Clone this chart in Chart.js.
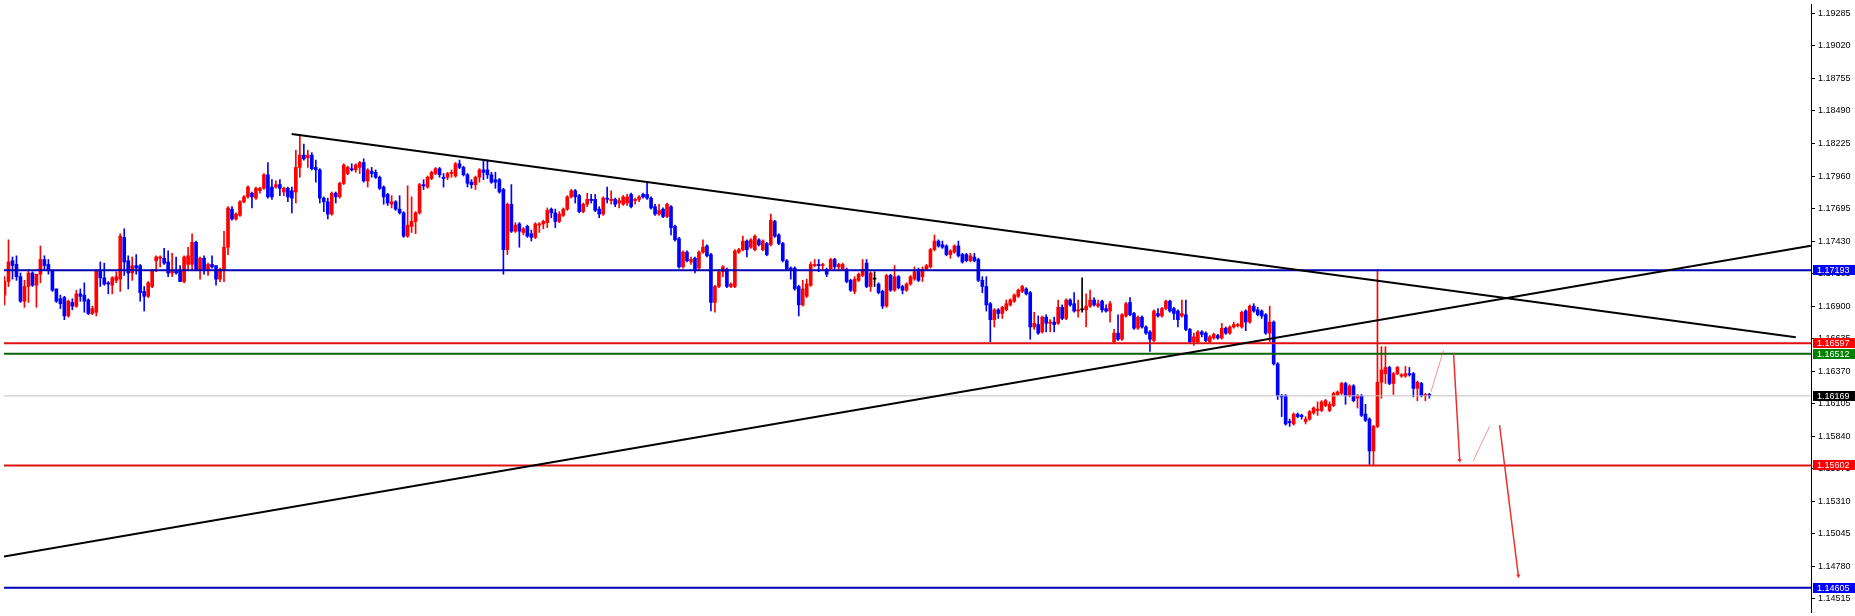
<!DOCTYPE html>
<html>
<head>
<meta charset="utf-8">
<script src="https://cdn.jsdelivr.net/npm/chart.js@4.4.1/dist/chart.umd.min.js"></script>
<style>
  html, body { margin: 0; padding: 0; background: #fff; overflow: hidden; }
</style>
</head>
<body>
<canvas id="chart" width="1855" height="616"></canvas>
<script>
// EURUSD candles (index = bar number from the left)
const opens = [
1.1699,1.1710,1.1727,1.1724,1.1714,1.1694,1.1706,1.1717,1.1707,1.1716,
1.1728,1.1724,1.1719,1.1704,1.1696,1.1697,1.1682,1.1693,1.1690,1.1700,
1.1699,1.1695,1.1684,1.1685,1.1719,1.1713,1.1709,1.1707,1.1711,1.1712,
1.1746,1.1727,1.1717,1.1723,1.1723,1.1702,1.1698,1.1706,1.1727,1.1729,
1.1729,1.1726,1.1717,1.1719,1.1719,1.1710,1.1724,1.1724,1.1742,1.1720,
1.1729,1.1720,1.1724,1.1723,1.1712,1.1719,1.1738,1.1769,1.1761,1.1764,
1.1775,1.1779,1.1782,1.1778,1.1784,1.1786,1.1797,1.1787,1.1787,1.1789,
1.1783,1.1786,1.1784,1.1783,1.1803,1.1813,1.1811,1.1813,1.1803,1.1801,
1.1778,1.1775,1.1765,1.1782,1.1779,1.1790,1.1798,1.1802,1.1801,1.1803,
1.1807,1.1792,1.1800,1.1799,1.1795,1.1787,1.1781,1.1773,1.1775,1.1769,
1.1766,1.1747,1.1755,1.1759,1.1766,1.1789,1.1787,1.1794,1.1798,1.1802,
1.1795,1.1795,1.1798,1.1796,1.1806,1.1803,1.1797,1.1791,1.1789,1.1795,
1.1801,1.1801,1.1797,1.1793,1.1793,1.1785,1.1736,1.1773,1.1751,1.1757,
1.1750,1.1755,1.1749,1.1746,1.1756,1.1757,1.1758,1.1769,1.1766,1.1759,
1.1764,1.1769,1.1779,1.1784,1.1780,1.1767,1.1773,1.1777,1.1777,1.1769,
1.1765,1.1778,1.1776,1.1777,1.1774,1.1773,1.1774,1.1781,1.1776,1.1777,
1.1781,1.1781,1.1778,1.1771,1.1765,1.1769,1.1763,1.1771,1.1755,1.1745,
1.1722,1.1734,1.1726,1.1729,1.1721,1.1734,1.1739,1.1732,1.1693,1.1706,
1.1718,1.1720,1.1706,1.1706,1.1734,1.1736,1.1743,1.1738,1.1736,1.1744,
1.1736,1.1741,1.1740,1.1759,1.1748,1.1741,1.1727,1.1721,1.1721,1.1706,
1.1691,1.1698,1.1707,1.1723,1.1724,1.1723,1.1720,1.1720,1.1728,1.1722,
1.1720,1.1720,1.1711,1.1702,1.1711,1.1715,1.1725,1.1706,1.1712,1.1708,
1.1702,1.1690,1.1715,1.1703,1.1714,1.1706,1.1703,1.1708,1.1712,1.1720,
1.1714,1.1720,1.1722,1.1736,1.1743,1.1740,1.1739,1.1732,1.1734,1.1739,
1.1732,1.1732,1.1727,1.1730,1.1728,1.1711,1.1706,1.1692,1.1679,1.1687,
1.1684,1.1687,1.1691,1.1694,1.1698,1.1702,1.1704,1.1701,1.1673,1.1675,
1.1669,1.1681,1.1676,1.1677,1.1676,1.1689,1.1680,1.1695,1.1692,1.1686,
1.1687,1.1687,1.1690,1.1695,1.1690,1.1694,1.1688,1.1686,1.1661,1.1668,
1.1663,1.1682,1.1693,1.1684,1.1672,1.1681,1.1673,1.1669,1.1662,1.1684,
1.1682,1.1688,1.1694,1.1688,1.1686,1.1682,1.1683,1.1671,1.1661,1.1661,
1.1669,1.1668,1.1661,1.1664,1.1666,1.1664,1.1672,1.1668,1.1673,1.1674,
1.1673,1.1686,1.1677,1.1690,1.1687,1.1686,1.1683,1.1668,1.1677,1.1643,
1.1617,1.1617,1.1596,1.1594,1.1602,1.1601,1.1596,1.1598,1.1603,1.1605,
1.1605,1.1609,1.1605,1.1609,1.1618,1.1619,1.1627,1.1617,1.1625,1.1615,
1.1617,1.1602,1.1598,1.1572,1.1592,1.1628,1.1635,1.1640,1.1627,1.1635,
1.1633,1.1633,1.1635,1.1635,1.1623,1.1627,1.1617,1.1618
];
const highs = [
1.1714,1.1744,1.1730,1.1731,1.1717,1.1711,1.1720,1.1718,1.1716,1.1739,
1.1731,1.1728,1.1719,1.1704,1.1699,1.1698,1.1695,1.1696,1.1703,1.1704,
1.1709,1.1696,1.1690,1.1720,1.1726,1.1725,1.1710,1.1714,1.1718,1.1749,
1.1753,1.1731,1.1730,1.1732,1.1724,1.1706,1.1710,1.1720,1.1731,1.1731,
1.1737,1.1735,1.1733,1.1730,1.1723,1.1731,1.1738,1.1749,1.1743,1.1730,
1.1731,1.1725,1.1731,1.1723,1.1721,1.1751,1.1771,1.1771,1.1766,1.1776,
1.1780,1.1788,1.1783,1.1787,1.1787,1.1798,1.1807,1.1793,1.1792,1.1793,
1.1787,1.1787,1.1787,1.1817,1.1829,1.1822,1.1817,1.1815,1.1809,1.1802,
1.1779,1.1778,1.1783,1.1783,1.1791,1.1806,1.1804,1.1806,1.1806,1.1808,
1.1810,1.1802,1.1803,1.1801,1.1796,1.1788,1.1782,1.1780,1.1776,1.1780,
1.1767,1.1788,1.1779,1.1767,1.1790,1.1793,1.1796,1.1800,1.1803,1.1803,
1.1798,1.1799,1.1801,1.1807,1.1809,1.1804,1.1798,1.1793,1.1796,1.1802,
1.1809,1.1809,1.1799,1.1799,1.1794,1.1786,1.1774,1.1789,1.1758,1.1758,
1.1754,1.1756,1.1752,1.1758,1.1758,1.1760,1.1770,1.1770,1.1769,1.1767,
1.1770,1.1780,1.1785,1.1785,1.1781,1.1774,1.1782,1.1781,1.1781,1.1771,
1.1779,1.1787,1.1784,1.1778,1.1778,1.1780,1.1781,1.1782,1.1778,1.1780,
1.1782,1.1791,1.1779,1.1773,1.1773,1.1770,1.1774,1.1772,1.1756,1.1746,
1.1735,1.1735,1.1730,1.1730,1.1735,1.1744,1.1740,1.1733,1.1707,1.1720,
1.1723,1.1721,1.1709,1.1736,1.1737,1.1747,1.1744,1.1745,1.1748,1.1745,
1.1744,1.1742,1.1765,1.1760,1.1749,1.1742,1.1728,1.1722,1.1722,1.1707,
1.1711,1.1712,1.1726,1.1728,1.1728,1.1725,1.1721,1.1729,1.1729,1.1725,
1.1725,1.1721,1.1712,1.1714,1.1717,1.1728,1.1728,1.1718,1.1718,1.1709,
1.1703,1.1716,1.1716,1.1723,1.1715,1.1707,1.1709,1.1715,1.1722,1.1721,
1.1722,1.1724,1.1737,1.1748,1.1744,1.1743,1.1740,1.1736,1.1740,1.1743,
1.1733,1.1733,1.1733,1.1733,1.1729,1.1714,1.1714,1.1693,1.1688,1.1688,
1.1690,1.1695,1.1696,1.1700,1.1704,1.1707,1.1705,1.1702,1.1685,1.1682,
1.1682,1.1683,1.1679,1.1681,1.1695,1.1691,1.1696,1.1696,1.1701,1.1695,
1.1713,1.1700,1.1703,1.1697,1.1695,1.1695,1.1691,1.1694,1.1671,1.1683,
1.1684,1.1693,1.1697,1.1685,1.1682,1.1682,1.1674,1.1670,1.1687,1.1688,
1.1689,1.1695,1.1695,1.1689,1.1687,1.1695,1.1695,1.1672,1.1668,1.1670,
1.1670,1.1669,1.1666,1.1668,1.1667,1.1676,1.1673,1.1674,1.1677,1.1676,
1.1686,1.1687,1.1691,1.1692,1.1689,1.1687,1.1684,1.1690,1.1678,1.1644,
1.1618,1.1618,1.1598,1.1603,1.1603,1.1602,1.1600,1.1605,1.1608,1.1612,
1.1613,1.1614,1.1612,1.1620,1.1621,1.1628,1.1628,1.1626,1.1626,1.1618,
1.1618,1.1610,1.1599,1.1593,1.1720,1.1657,1.1657,1.1641,1.1636,1.1641,
1.1635,1.1641,1.1640,1.1636,1.1629,1.1628,1.1619,1.1619
];
const lows = [
1.1691,1.1706,1.1712,1.1711,1.1693,1.1689,1.1693,1.1706,1.1689,1.1709,
1.1719,1.1716,1.1702,1.1693,1.1688,1.1679,1.1681,1.1687,1.1689,1.1694,
1.1685,1.1683,1.1683,1.1682,1.1706,1.1707,1.1700,1.1700,1.1709,1.1702,
1.1715,1.1704,1.1711,1.1716,1.1694,1.1686,1.1697,1.1705,1.1718,1.1722,
1.1724,1.1714,1.1714,1.1716,1.1710,1.1709,1.1719,1.1719,1.1719,1.1712,
1.1716,1.1715,1.1721,1.1707,1.1710,1.1710,1.1732,1.1760,1.1760,1.1763,
1.1774,1.1778,1.1770,1.1777,1.1782,1.1785,1.1778,1.1777,1.1786,1.1780,
1.1780,1.1775,1.1766,1.1774,1.1795,1.1809,1.1803,1.1801,1.1791,1.1774,
1.1767,1.1761,1.1764,1.1774,1.1778,1.1789,1.1797,1.1800,1.1799,1.1798,
1.1791,1.1787,1.1795,1.1794,1.1785,1.1773,1.1772,1.1770,1.1768,1.1765,
1.1746,1.1746,1.1750,1.1749,1.1765,1.1785,1.1786,1.1793,1.1797,1.1795,
1.1787,1.1793,1.1795,1.1795,1.1802,1.1796,1.1787,1.1786,1.1785,1.1791,
1.1793,1.1794,1.1790,1.1786,1.1782,1.1716,1.1732,1.1750,1.1750,1.1738,
1.1748,1.1746,1.1743,1.1745,1.1750,1.1753,1.1754,1.1762,1.1754,1.1758,
1.1763,1.1768,1.1778,1.1774,1.1766,1.1766,1.1771,1.1774,1.1767,1.1762,
1.1764,1.1774,1.1773,1.1771,1.1770,1.1772,1.1772,1.1770,1.1773,1.1775,
1.1778,1.1777,1.1769,1.1764,1.1764,1.1762,1.1762,1.1748,1.1743,1.1721,
1.1721,1.1726,1.1724,1.1717,1.1720,1.1733,1.1730,1.1686,1.1685,1.1705,
1.1714,1.1705,1.1705,1.1705,1.1733,1.1735,1.1730,1.1737,1.1735,1.1739,
1.1735,1.1731,1.1739,1.1746,1.1740,1.1726,1.1719,1.1712,1.1703,1.1682,
1.1690,1.1697,1.1706,1.1722,1.1718,1.1720,1.1714,1.1719,1.1720,1.1720,
1.1719,1.1709,1.1702,1.1700,1.1710,1.1714,1.1705,1.1702,1.1706,1.1700,
1.1688,1.1689,1.1702,1.1702,1.1704,1.1700,1.1702,1.1707,1.1711,1.1710,
1.1710,1.1719,1.1721,1.1735,1.1738,1.1737,1.1731,1.1729,1.1733,1.1730,
1.1725,1.1726,1.1726,1.1726,1.1710,1.1701,1.1686,1.1661,1.1673,1.1680,
1.1680,1.1686,1.1690,1.1693,1.1697,1.1701,1.1699,1.1663,1.1671,1.1667,
1.1668,1.1669,1.1669,1.1669,1.1675,1.1679,1.1679,1.1690,1.1685,1.1681,
1.1685,1.1673,1.1689,1.1690,1.1689,1.1685,1.1685,1.1677,1.1660,1.1662,
1.1662,1.1681,1.1682,1.1671,1.1671,1.1672,1.1667,1.1653,1.1661,1.1681,
1.1681,1.1687,1.1685,1.1679,1.1673,1.1681,1.1670,1.1660,1.1658,1.1660,
1.1665,1.1661,1.1660,1.1663,1.1663,1.1663,1.1667,1.1667,1.1672,1.1673,
1.1672,1.1670,1.1676,1.1685,1.1682,1.1680,1.1667,1.1661,1.1642,1.1614,
1.1600,1.1593,1.1592,1.1593,1.1599,1.1598,1.1594,1.1597,1.1602,1.1601,
1.1604,1.1608,1.1604,1.1608,1.1617,1.1618,1.1610,1.1616,1.1612,1.1607,
1.1600,1.1596,1.1561,1.1560,1.1591,1.1615,1.1627,1.1626,1.1618,1.1634,
1.1632,1.1632,1.1633,1.1616,1.1613,1.1616,1.1613,1.1615
];
const closes = [
1.1710,1.1726,1.1723,1.1714,1.1694,1.1706,1.1717,1.1707,1.1716,1.1728,
1.1723,1.1719,1.1703,1.1694,1.1692,1.1682,1.1694,1.1690,1.1700,1.1698,
1.1694,1.1684,1.1688,1.1719,1.1713,1.1708,1.1708,1.1713,1.1714,1.1747,
1.1726,1.1717,1.1723,1.1721,1.1701,1.1698,1.1709,1.1719,1.1730,1.1730,
1.1725,1.1717,1.1719,1.1717,1.1710,1.1730,1.1731,1.1742,1.1720,1.1729,
1.1720,1.1724,1.1722,1.1712,1.1720,1.1738,1.1770,1.1761,1.1765,1.1775,
1.1779,1.1787,1.1779,1.1786,1.1786,1.1797,1.1779,1.1779,1.1789,1.1786,
1.1786,1.1779,1.1778,1.1803,1.1813,1.1810,1.1813,1.1802,1.1801,1.1778,
1.1775,1.1765,1.1782,1.1779,1.1790,1.1805,1.1803,1.1801,1.1805,1.1807,
1.1792,1.1801,1.1798,1.1795,1.1786,1.1779,1.1774,1.1775,1.1769,1.1766,
1.1747,1.1756,1.1759,1.1766,1.1789,1.1788,1.1795,1.1799,1.1802,1.1797,
1.1794,1.1798,1.1799,1.1806,1.1803,1.1797,1.1790,1.1789,1.1795,1.1801,
1.1799,1.1797,1.1791,1.1791,1.1783,1.1736,1.1773,1.1751,1.1756,1.1751,
1.1753,1.1747,1.1746,1.1757,1.1757,1.1759,1.1768,1.1766,1.1759,1.1765,
1.1769,1.1779,1.1784,1.1779,1.1767,1.1773,1.1777,1.1776,1.1768,1.1765,
1.1778,1.1777,1.1777,1.1773,1.1776,1.1779,1.1779,1.1771,1.1777,1.1779,
1.1779,1.1778,1.1770,1.1765,1.1768,1.1763,1.1773,1.1754,1.1744,1.1722,
1.1734,1.1727,1.1728,1.1720,1.1734,1.1738,1.1731,1.1693,1.1706,1.1718,
1.1722,1.1706,1.1708,1.1735,1.1736,1.1743,1.1736,1.1744,1.1747,1.1740,
1.1743,1.1732,1.1760,1.1747,1.1741,1.1727,1.1720,1.1720,1.1704,1.1691,
1.1704,1.1708,1.1724,1.1724,1.1723,1.1724,1.1716,1.1728,1.1722,1.1724,
1.1724,1.1710,1.1703,1.1712,1.1716,1.1720,1.1706,1.1717,1.1712,1.1701,
1.1690,1.1715,1.1703,1.1714,1.1705,1.1703,1.1708,1.1714,1.1718,1.1711,
1.1720,1.1723,1.1736,1.1743,1.1739,1.1738,1.1732,1.1735,1.1739,1.1731,
1.1726,1.1727,1.1731,1.1727,1.1711,1.1706,1.1691,1.1679,1.1687,1.1684,
1.1689,1.1692,1.1695,1.1699,1.1703,1.1706,1.1700,1.1673,1.1676,1.1668,
1.1681,1.1676,1.1677,1.1675,1.1689,1.1680,1.1695,1.1691,1.1686,1.1687,
1.1687,1.1690,1.1695,1.1691,1.1692,1.1687,1.1686,1.1692,1.1668,1.1663,
1.1683,1.1692,1.1683,1.1672,1.1681,1.1673,1.1668,1.1663,1.1686,1.1682,
1.1688,1.1694,1.1686,1.1684,1.1679,1.1684,1.1671,1.1661,1.1665,1.1669,
1.1667,1.1662,1.1665,1.1667,1.1664,1.1672,1.1668,1.1673,1.1675,1.1675,
1.1685,1.1677,1.1690,1.1686,1.1683,1.1682,1.1668,1.1677,1.1643,1.1617,
1.1616,1.1594,1.1595,1.1602,1.1600,1.1600,1.1598,1.1604,1.1607,1.1606,
1.1612,1.1613,1.1610,1.1619,1.1620,1.1627,1.1617,1.1625,1.1613,1.1617,
1.1601,1.1597,1.1572,1.1592,1.1628,1.1638,1.1640,1.1627,1.1635,1.1640,
1.1634,1.1635,1.1634,1.1623,1.1628,1.1617,1.1618,1.1617
];

// right price scale
const priceTicks = [1.19285, 1.19020, 1.18755, 1.18490, 1.18225, 1.17960, 1.17695, 1.17430,
  1.17165, 1.16900, 1.16635, 1.16370, 1.16105, 1.15840, 1.15575, 1.15310, 1.15045, 1.14780, 1.14515];

// horizontal levels and price tags
const blueLevels = [1.17193, 1.14605];
const redLevels = [1.16597, 1.15602];
const greenLevels = [1.16512];
const bidLevel = 1.16169;

// trend lines [bar, price]
const trendDown = [[71.95, 1.18302], [448.8, 1.16647]];
const trendUp = [[-0.125, 1.14861], [452.6, 1.17391]];

// projected path drawn at the right
const pathUp1 = [[357.4, 1.16201], [360.55, 1.16541]];
const pathDown1 = [[363.05, 1.16520], [364.6, 1.15644]];
const pathUp2 = [[367.95, 1.15636], [372.1, 1.15922]];
const pathDown2 = [[374.6, 1.15930], [379.3, 1.14703]];

const X_MIN = -0.125, X_MAX = 452.625;
const Y_MIN = 1.144081, Y_MAX = 1.193614;

const UP = '#ff0000', DOWN = '#0000ff';
const barIdx = opens.map((_, i) => i);
const candleColors = barIdx.map(i => closes[i] > opens[i] ? UP : (closes[i] < opens[i] ? DOWN : '#000000'));

function pts(arr) { return arr.map(p => ({ x: p[0], y: p[1] })); }
function hline(p, color, width) {
  return { type: 'line', data: [{ x: X_MIN, y: p }, { x: X_MAX, y: p }], borderColor: color,
    borderWidth: width, pointRadius: 0, order: 2 };
}
function seg(arr, color, width, arrow) {
  return { type: 'line', data: pts(arr), borderColor: color, borderWidth: width, order: 1,
    pointRadius: arrow ? [0, 2.5] : 0, pointStyle: 'triangle', pointRotation: 173,
    pointBackgroundColor: color, pointBorderWidth: 0 };
}

const datasets = [
  { label: 'wick', data: barIdx.map(i => ({ x: i, y: [lows[i], highs[i]] })),
    backgroundColor: candleColors, barThickness: 1, grouped: false, order: 10 },
  { label: 'body', data: barIdx.map(i => ({ x: i, y: [opens[i], closes[i]] })),
    backgroundColor: candleColors, barThickness: 3, grouped: false, minBarLength: 1, order: 9 },
  hline(bidLevel, '#c0c0c0', 1),
  ...blueLevels.map(p => hline(p, '#0000b4', 2)),
  ...redLevels.map(p => hline(p, '#dd1111', 2)),
  ...greenLevels.map(p => hline(p, '#0a640a', 2)),
  { type: 'line', data: pts(trendDown), borderColor: '#000', borderWidth: 2, pointRadius: 0, order: 1 },
  { type: 'line', data: pts(trendUp), borderColor: '#000', borderWidth: 2, pointRadius: 0, order: 1 },
  seg(pathUp1, 'rgba(240,60,60,0.55)', 1, false),
  seg(pathDown1, '#f03030', 1.5, true),
  seg(pathUp2, 'rgba(240,60,60,0.55)', 1, false),
  seg(pathDown2, '#f03030', 1.5, true)
];

const tagPrices = [blueLevels[0], redLevels[0], greenLevels[0], bidLevel, redLevels[1], blueLevels[1]];
const tagFill = ['#0000ff', '#ff0000', '#008000', '#000000', '#ff0000', '#0000ff'];

const priceTags = {
  id: 'priceTags',
  afterDraw(chart) {
    const { ctx, chartArea } = chart;
    const y = chart.scales.y;
    ctx.save();
    ctx.font = '9px "Liberation Sans"';
    ctx.textBaseline = 'middle';
    tagPrices.forEach((p, k) => {
      const py = Math.round(y.getPixelForValue(p));
      ctx.fillStyle = tagFill[k];
      ctx.fillRect(chartArea.right + 2, py - 5, 42, 10);
      ctx.fillStyle = '#ffffff';
      ctx.fillText(p.toFixed(5), chartArea.right + 6, py + 0.5);
    });
    ctx.restore();
  }
};

new Chart(document.getElementById('chart'), {
  type: 'bar',
  data: { datasets },
  options: {
    responsive: false,
    animation: false,
    devicePixelRatio: 1,
    layout: { padding: 0 },
    plugins: { legend: { display: false }, tooltip: { enabled: false } },
    scales: {
      x: { type: 'linear', min: X_MIN, max: X_MAX, display: false, offset: false },
      y: {
        position: 'right', min: Y_MIN, max: Y_MAX,
        afterFit(s) { s.width = 44; s.paddingTop = 0; s.paddingBottom = 0; },
        afterBuildTicks(s) { s.ticks = priceTicks.map(v => ({ value: v })); },
        ticks: { autoSkip: false, padding: 3, color: '#000', callback: v => v.toFixed(5),
          font: { family: 'Liberation Sans', size: 9 } },
        grid: { drawOnChartArea: false, drawTicks: true, tickLength: 4, color: '#000' },
        border: { display: true, color: '#000', width: 1 }
      }
    }
  },
  plugins: [priceTags]
});
</script>
</body>
</html>
